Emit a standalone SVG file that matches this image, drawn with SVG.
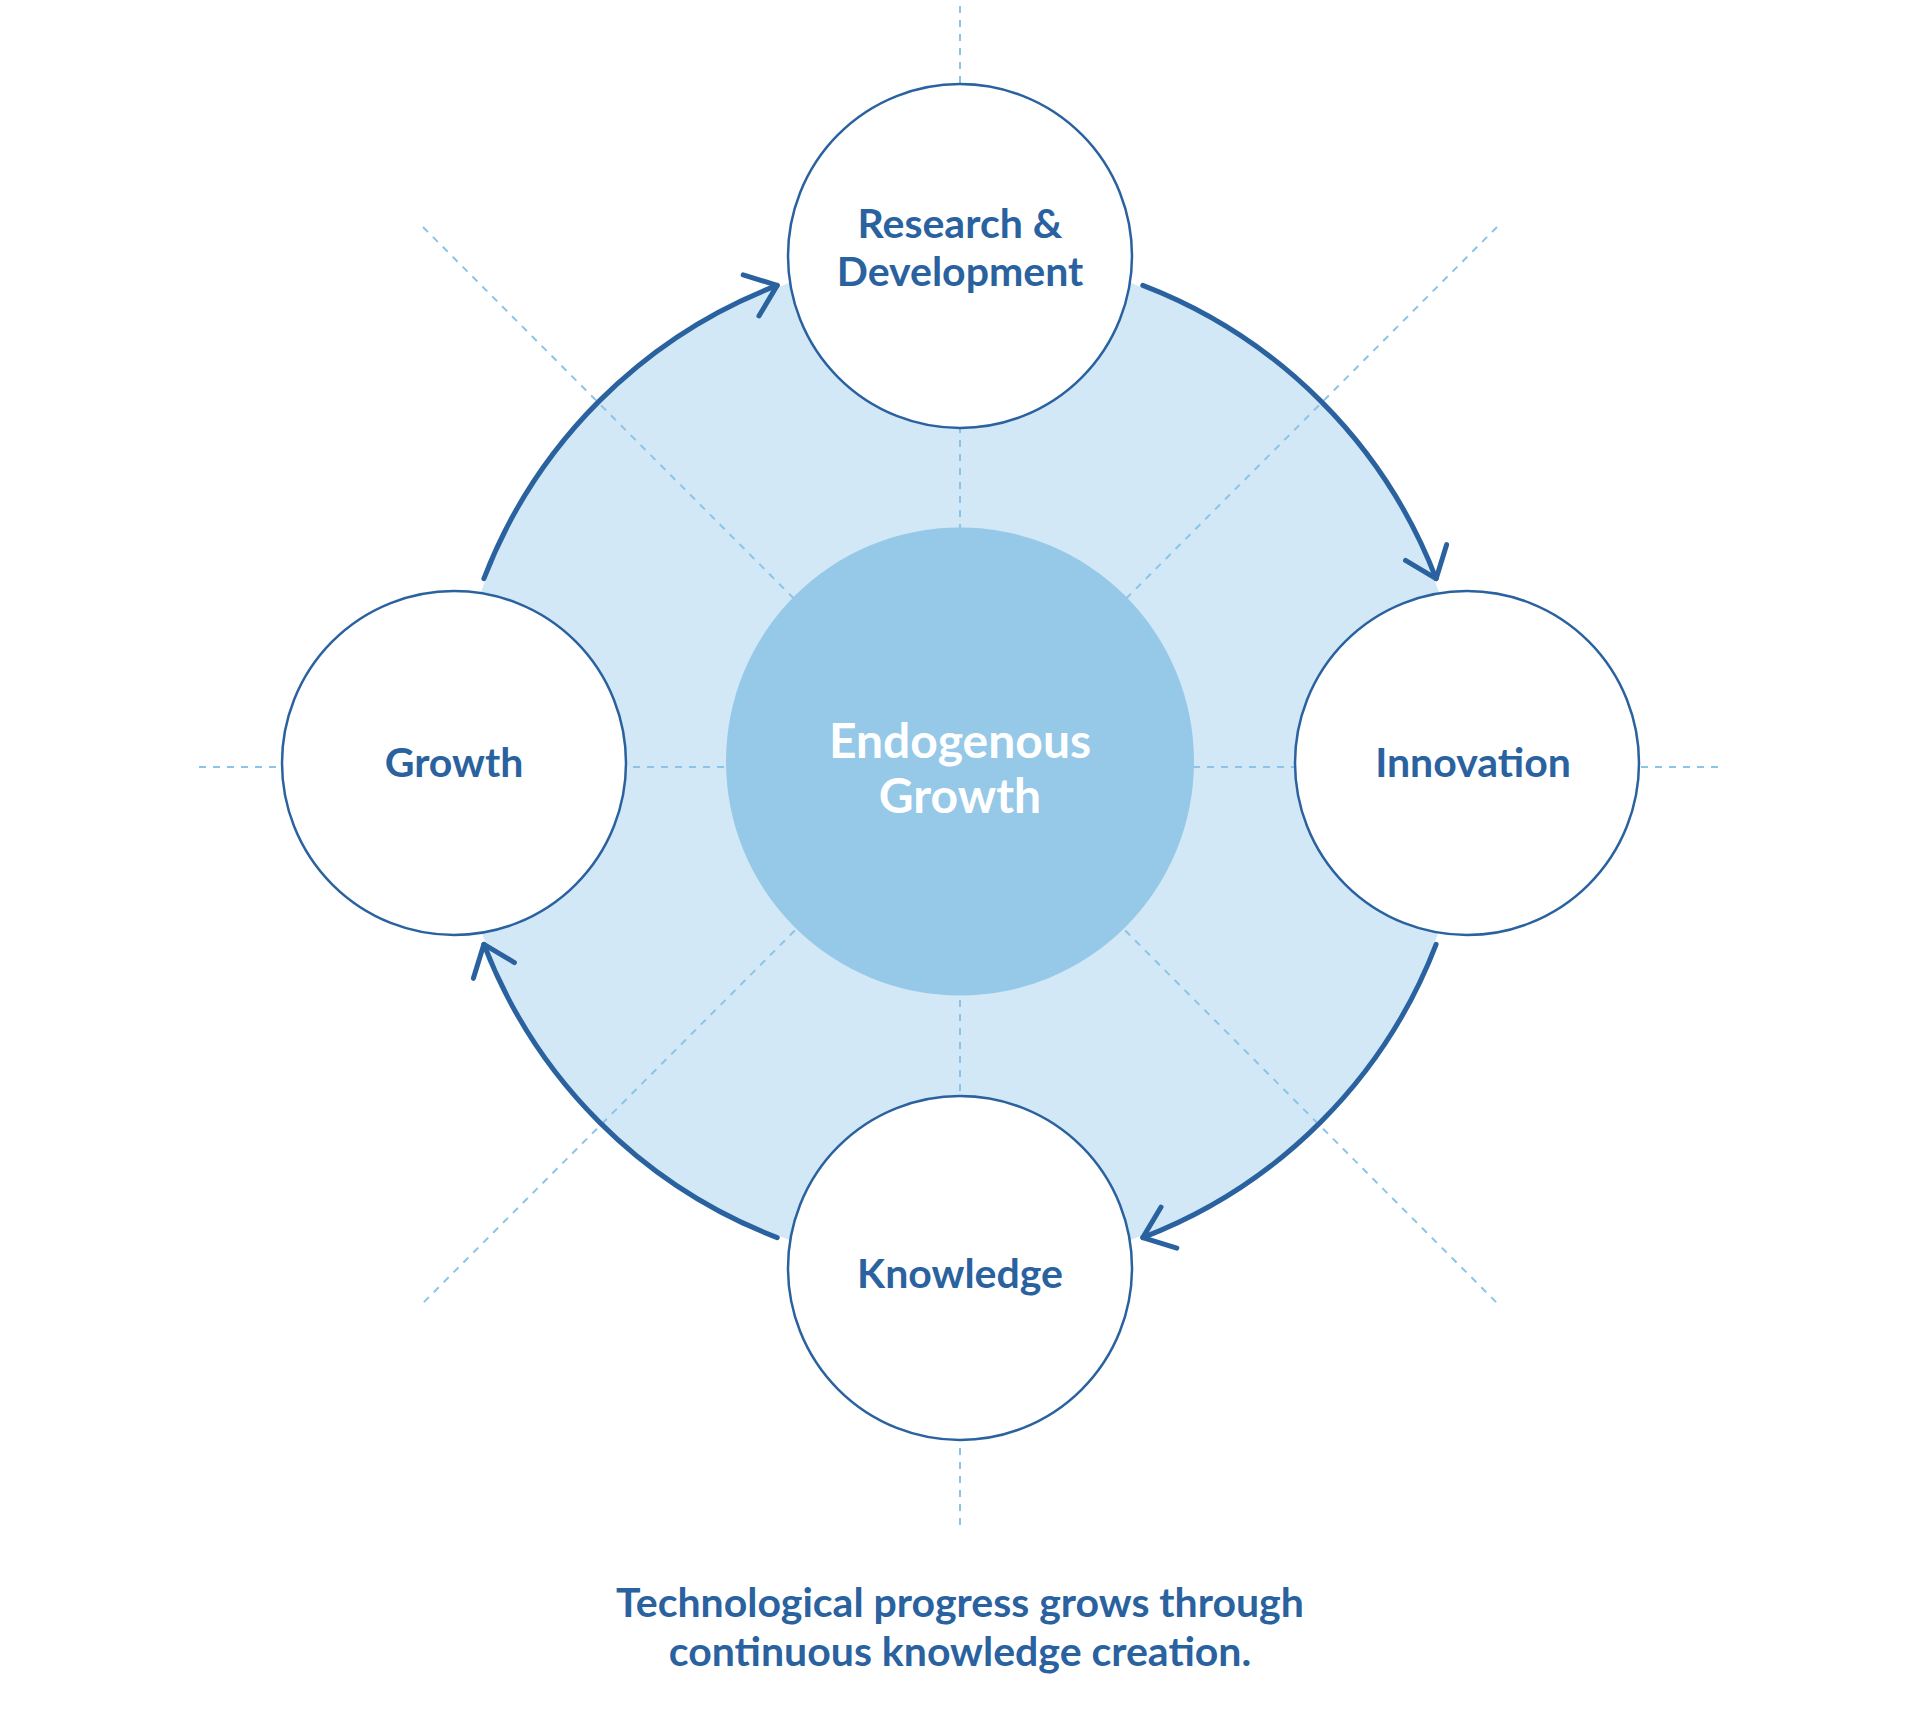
<svg xmlns="http://www.w3.org/2000/svg" width="1920" height="1722" viewBox="0 0 1920 1722">
<style>
.guide{stroke:#8cc4e8;stroke-width:2;stroke-dasharray:7 7;fill:none}
.node{fill:#fff;stroke:#2a62a0;stroke-width:2.5}
.lbl{font-family:Lato,"Noto Sans",sans-serif;font-weight:700;font-size:41px;fill:#2a62a0;text-anchor:middle}
.arc{fill:none;stroke:#2a62a0;stroke-width:5;stroke-linecap:round}
</style>
<defs>
<marker id="ah" markerUnits="userSpaceOnUse" markerWidth="60" markerHeight="60" refX="0" refY="0" viewBox="-40 -30 50 60" orient="auto">
<polyline points="-28,-22 0,0 -28,22" fill="none" stroke="#2a62a0" stroke-width="5" stroke-linecap="round" stroke-linejoin="round"/>
</marker>
</defs>
<rect width="1920" height="1722" fill="#fff"/>
<g transform="translate(-5,-4)">
<circle cx="965" cy="765.5" r="508" fill="#d2e8f6"/>
<g id="guides">
<line class="guide" x1="965" y1="10" x2="965" y2="1532"/>
<line class="guide" x1="204" y1="771" x2="1726" y2="771"/>
<line class="guide" x1="428" y1="231" x2="1502" y2="1307"/>
<line class="guide" x1="1502" y1="231" x2="428" y2="1307"/>
</g>
<g id="center"><circle cx="965" cy="765.5" r="234" fill="#96c8e8"/>
<text class="lbl" style="fill:#fff;font-size:48px" x="965" y="762">Endogenous</text>
<text class="lbl" style="fill:#fff;font-size:48px" x="965" y="817">Growth</text></g>
<g id="connectors">
<path class="arc" marker-end="url(#ah)" d="M1147.8 289.4 A510 510 0 0 1 1441.1 582.7"/>
<path class="arc" marker-end="url(#ah)" d="M1441.1 948.3 A510 510 0 0 1 1147.8 1241.6"/>
<path class="arc" marker-end="url(#ah)" d="M782.2 1241.6 A510 510 0 0 1 488.9 948.3"/>
<path class="arc" marker-end="url(#ah)" d="M488.9 582.7 A510 510 0 0 1 782.2 289.4"/>
</g>
<g id="rd"><circle class="node" cx="965" cy="260" r="172"/>
<text class="lbl" x="965" y="242">Research &amp;</text><text class="lbl" x="965" y="290">Development</text></g>
<g id="innovation"><circle class="node" cx="1472" cy="767" r="172"/>
<text class="lbl" x="1478" y="781">Innovation</text></g>
<g id="knowledge"><circle class="node" cx="965" cy="1272" r="172"/>
<text class="lbl" x="965" y="1292">Knowledge</text></g>
<g id="growth"><circle class="node" cx="459" cy="767" r="172"/>
<text class="lbl" x="459" y="781">Growth</text></g>
<g id="caption">
<text class="lbl" x="965" y="1621">Technological progress grows through</text>
<text class="lbl" x="965" y="1670">continuous knowledge creation.</text></g>
</g>
</svg>
